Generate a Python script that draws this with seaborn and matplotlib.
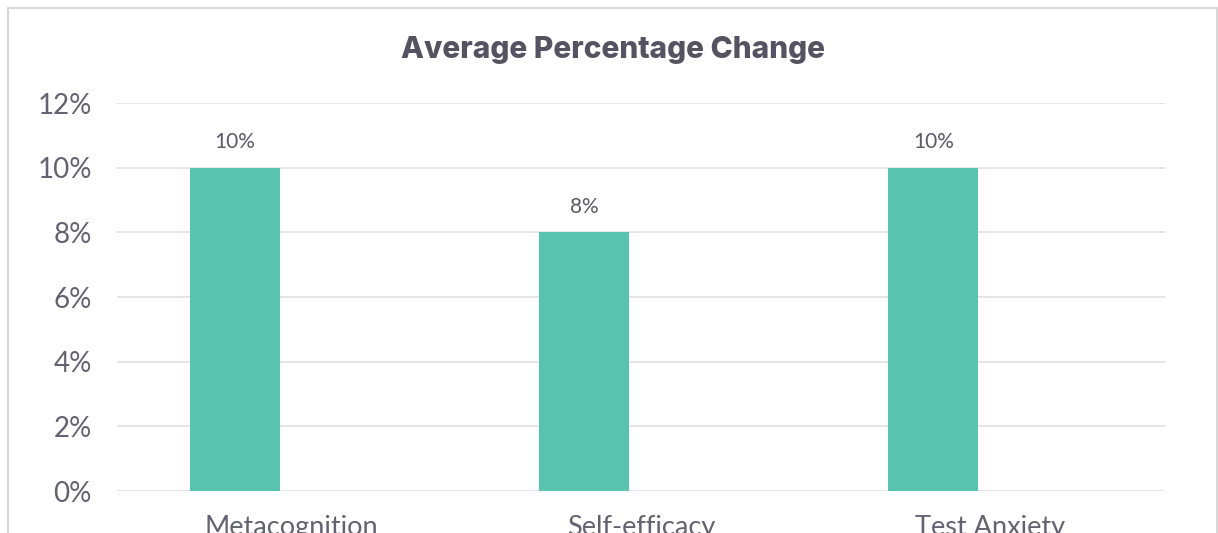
import matplotlib
matplotlib.use("Agg")
import matplotlib.pyplot as plt
import seaborn as sns
import pandas as pd
from matplotlib.ticker import MultipleLocator, FuncFormatter
from matplotlib.patches import Rectangle

# ---- data ----
categories = ["Metacognition", "Self-efficacy", "Test Anxiety"]
change_pct = [10, 8, 10]          # average percentage change (%)
empty_series = [0, 0, 0]          # second (empty) series in the original chart
series_names = ["Change", "Empty"]
title = "Average Percentage Change"

df = pd.DataFrame({
    "category": categories * 2,
    "value": change_pct + empty_series,
    "series": [series_names[0]] * 3 + [series_names[1]] * 3,
})

sns.set_theme(style="white")
plt.rcParams["font.family"] = ["Lato", "DejaVu Sans"]

W, H, DPI = 1218, 533, 100
fig = plt.figure(figsize=(W / DPI, H / DPI), dpi=DPI)
fig.patch.set_facecolor("white")

# chart frame
fig.patches.append(Rectangle((8 / W, -0.1), (1217 - 8) / W, 1.1 - 8 / H,
                             transform=fig.transFigure, fill=False,
                             edgecolor="#d9d9d9", linewidth=1.5))

ax = fig.add_axes([117 / W, (H - 491) / H, (1165 - 117) / W, (491 - 103) / H])

text_col = "#5b5a68"
tick_col = "#636270"
bar_col = "#58c3af"

sns.barplot(data=df, x="category", y="value", hue="series",
            hue_order=series_names, order=categories,
            palette=[bar_col, bar_col], saturation=1, width=0.652, gap=0.21,
            linewidth=0, legend=False, ax=ax)

ax.set_ylim(0, 12)
ax.set_xlim(-0.5, 2.5)
ax.yaxis.set_major_locator(MultipleLocator(2))
ax.yaxis.set_major_formatter(FuncFormatter(lambda v, p: f"{v:.0f}%"))
ax.grid(axis="y", color="#e0e0e0", linewidth=1.2)
ax.set_axisbelow(True)
for s in ax.spines.values():
    s.set_visible(False)
ax.set_xlabel("")
ax.set_ylabel("")
ax.tick_params(axis="y", length=0, pad=18, labelsize=20, labelcolor=tick_col)
ax.tick_params(axis="x", length=0, pad=17, labelsize=19.5, labelcolor=tick_col)

ax.bar_label(ax.containers[0], labels=[f"{v}%" for v in change_pct],
             padding=11, fontsize=15, color=text_col)

fig.text(613 / W, 1 - 50 / H, title, ha="center", va="center",
         fontsize=21.5, fontweight="heavy", color="#555362",
         family=["Inter", "DejaVu Sans"])

fig.savefig("out.png", dpi=DPI, facecolor="white")
